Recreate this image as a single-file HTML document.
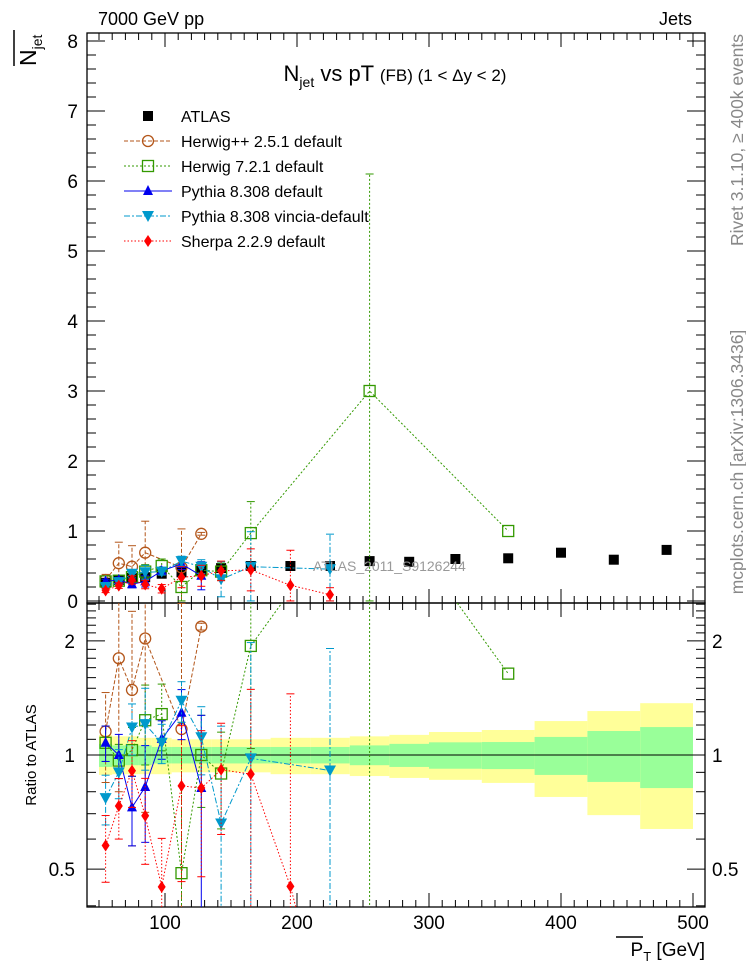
<!DOCTYPE html>
<html><head><meta charset="utf-8">
<style>
html,body{margin:0;padding:0;background:#fff;width:746px;height:972px;overflow:hidden;}
svg{display:block;font-family:"Liberation Sans",Arial,sans-serif;}
</style></head>
<body>
<svg id="c" width="746" height="972" viewBox="0 0 746 972" xmlns="http://www.w3.org/2000/svg">
<defs>
<clipPath id="clipTop"><rect x="87" y="33" width="618" height="570"/></clipPath>
<clipPath id="clipBot"><rect x="87" y="603" width="618" height="304"/></clipPath>
</defs>
<rect x="0" y="0" width="746" height="972" fill="#fff"/>
<g id="bands" clip-path="url(#clipBot)"></g>
<g id="axes"></g>
<g id="series"></g>
<text x="98" y="25" font-size="18">7000 GeV pp</text>
<text x="692" y="25" font-size="18" text-anchor="end">Jets</text>
<text x="395" y="81" font-size="22" text-anchor="middle">N<tspan font-size="14" dy="6">jet</tspan><tspan dy="-6"> vs pT </tspan><tspan font-size="17">(FB) (1 &lt; Δy &lt; 2)</tspan></text>
<g transform="translate(36,66) rotate(-90)">
<text x="0" y="0" font-size="23">N<tspan font-size="14" dy="6">jet</tspan></text>
<line x1="0" y1="-22" x2="36" y2="-22" stroke="#000" stroke-width="1.5"/>
</g>
<text transform="translate(36,755) rotate(-90)" font-size="15" text-anchor="middle">Ratio to ATLAS</text>
<text transform="translate(743,140) rotate(-90)" font-size="17.5" fill="#888" text-anchor="middle">Rivet 3.1.10, ≥ 400k events</text>
<text transform="translate(743,462) rotate(-90)" font-size="17.5" fill="#888" text-anchor="middle">mcplots.cern.ch [arXiv:1306.3436]</text>
<text x="313" y="571" font-size="14" fill="#999">ATLAS_2011_S9126244</text>
<g>
<text x="705" y="956" font-size="19" text-anchor="end">P<tspan font-size="13" dy="5">T</tspan><tspan dy="-5"> [GeV]</tspan></text>
<line x1="616" y1="937" x2="643" y2="937" stroke="#000" stroke-width="1.5"/>
</g>
<g id="legend"></g>
</svg>
<script>
// ---------- data ----------
const binCenters = [55,65,75,85,97.5,112.5,127.5,142.5,165,195,225,255,285,320,360,400,440,480];
const binEdges = [50,60,70,80,90,105,120,135,150,180,210,240,270,300,340,380,420,460,500];
const atlasValues = [0.26,0.30,0.33,0.34,0.39,0.41,0.44,0.47,0.50,0.50,0.50,0.57,0.56,0.60,0.61,0.69,0.59,0.73];
const atlasTotalUp = [1.13,1.12,1.12,1.11,1.11,1.10,1.10,1.10,1.10,1.11,1.11,1.12,1.13,1.15,1.164,1.229,1.306,1.37];
const atlasTotalDn = [0.886,0.89,0.89,0.89,0.89,0.90,0.90,0.90,0.90,0.89,0.89,0.88,0.87,0.86,0.844,0.775,0.694,0.638];
const atlasStatUp = [1.07,1.06,1.06,1.06,1.05,1.05,1.05,1.05,1.05,1.05,1.05,1.06,1.07,1.08,1.082,1.116,1.157,1.185];
const atlasStatDn = [0.93,0.94,0.94,0.94,0.95,0.95,0.95,0.95,0.95,0.95,0.95,0.94,0.93,0.92,0.918,0.886,0.849,0.818];

const herwigppX = [55,65,75,85,112.5,127.5];
const herwigppY = [0.30,0.54,0.49,0.69,0.48,0.96];
const herwigppErr = [0.08,0.30,0.30,0.45,0.55,0.02];

const herwig7X = [55,65,75,85,97.5,112.5,127.5,142.5,165,255,360];
const herwig7Y = [0.28,0.29,0.34,0.42,0.50,0.20,0.44,0.42,0.97,3.0,1.0];
const herwig7Err = [0.03,0.03,0.05,0.10,0.10,0.30,0.12,0.12,0.45,3.1,0.0];

const pythiaX = [55,65,75,85,97.5,112.5,127.5];
const pythiaY = [0.28,0.30,0.24,0.28,0.43,0.53,0.36];
const pythiaErr = [0.03,0.04,0.05,0.08,0.05,0.08,0.20];

const vinciaX = [55,65,75,85,97.5,112.5,127.5,142.5,165,225];
const vinciaY = [0.20,0.27,0.39,0.41,0.42,0.57,0.49,0.31,0.49,0.455];
const vinciaErr = [0.03,0.04,0.06,0.10,0.05,0.07,0.10,0.25,0.50,0.50];

const sherpaX = [55,65,75,85,97.5,112.5,127.5,142.5,165,195,225];
const sherpaY = [0.15,0.22,0.30,0.235,0.175,0.34,0.36,0.43,0.445,0.225,0.09];
const sherpaErr = [0.03,0.04,0.06,0.06,0.06,0.15,0.15,0.14,0.30,0.50,0.10];

const xTicks = [100,200,300,400,500];
const yTicks = [0,1,2,3,4,5,6,7,8];
const rTicks = [0.5,1,2];

// ---------- axes functions ----------
const X0=87, X1=705, TOP=33, MID=603, BOT=907;
function xs(v){return 165+(v-100)*1.32;}
function ys(v){return 601-v*70;}
function rs(r){return 755-379*Math.log10(r);}
const NS="http://www.w3.org/2000/svg";
function mk(tag,attrs,parent){const e=document.createElementNS(NS,tag);for(const k in attrs)e.setAttribute(k,attrs[k]);parent.appendChild(e);return e;}
const axes=document.getElementById('axes');
const bands=document.getElementById('bands');
const seriesG=document.getElementById('series');

for(let i=0;i<binCenters.length;i++){
  const x1=xs(binEdges[i]), x2=xs(binEdges[i+1]);
  const y=mk('rect',{x:x1,y:rs(atlasTotalUp[i]),width:x2-x1,height:rs(atlasTotalDn[i])-rs(atlasTotalUp[i]),fill:'#ffff99'},bands);
  
  
  const g=mk('rect',{x:x1,y:rs(atlasStatUp[i]),width:x2-x1,height:rs(atlasStatDn[i])-rs(atlasStatUp[i]),fill:'#99ff99'},bands);
  
  
}
const one=mk('line',{x1:X0,x2:X1,y1:rs(1),y2:rs(1),stroke:'#000','stroke-width':1},bands);



const f1=mk('rect',{x:X0,y:TOP,width:X1-X0,height:MID-TOP,fill:'none',stroke:'#000','stroke-width':1.3},axes);


const f2=mk('rect',{x:X0,y:MID,width:X1-X0,height:BOT-MID,fill:'none',stroke:'#000','stroke-width':1.3},axes);



for(let v=50;v<=500;v+=10){
  const major=v%100===0; const L=major?14:7;
  for(const yb of [MID,BOT]){mk('line',{x1:xs(v),x2:xs(v),y1:yb,y2:yb-L,stroke:'#000'},axes);}
  for(const yt of [TOP,MID]){mk('line',{x1:xs(v),x2:xs(v),y1:yt,y2:yt+L,stroke:'#000'},axes);}
}
for(const v of xTicks){
  const t=mk('text',{x:xs(v),y:929,'font-size':19,'text-anchor':'middle'},axes);t.textContent=v;
  
  
}
for(let k=0;k<=40;k++){
  const v=k*0.2; const major=k%5===0; const L=major?18:9; const y=ys(v);
  if(y<TOP)continue;
  mk('line',{x1:X0,x2:X0+L,y1:y,y2:y,stroke:'#000'},axes);
  mk('line',{x1:X1,x2:X1-L,y1:y,y2:y,stroke:'#000'},axes);
}
for(const v of yTicks){
  const t=mk('text',{x:78,y:ys(v)+7,'font-size':19,'text-anchor':'end'},axes);t.textContent=v;
  
  
}
for(let r=0.4;r<2.55;r+=0.1){
  const rr=Math.round(r*10)/10;
  const major=(rr===0.5||rr===1||rr===2); const L=major?18:9; const y=rs(rr);
  if(y<MID||y>BOT)continue;
  mk('line',{x1:X0,x2:X0+L,y1:y,y2:y,stroke:'#000'},axes);
  mk('line',{x1:X1,x2:X1-L,y1:y,y2:y,stroke:'#000'},axes);
}
for(const v of rTicks){
  const t=mk('text',{x:75,y:rs(v)+7,'font-size':19,'text-anchor':'end'},axes);t.textContent=v;
  
  
  const t2=mk('text',{x:712,y:rs(v)+7,'font-size':19},axes);t2.textContent=v;
  
  
}

function marker(type,x,y,color,g){
  let e;
  if(type==='sq') e=mk('rect',{x:x-5,y:y-5,width:10,height:10,fill:'#000'},g);
  else if(type==='osq') e=mk('rect',{x:x-5.5,y:y-5.5,width:11,height:11,fill:'none',stroke:color,'stroke-width':1.3},g);
  else if(type==='oc') e=mk('circle',{cx:x,cy:y,r:5.5,fill:'none',stroke:color,'stroke-width':1.3},g);
  else if(type==='tu') e=mk('polygon',{points:`${x},${y-6} ${x-5},${y+4} ${x+5},${y+4}`,fill:color},g);
  else if(type==='td') e=mk('polygon',{points:`${x-6},${y-5} ${x+6},${y-5} ${x},${y+6}`,fill:color},g);
  else e=mk('polygon',{points:`${x},${y-6} ${x+4},${y} ${x},${y+6} ${x-4},${y}`,fill:color},g);
  
  
}
function atlasAt(x){const i=binCenters.indexOf(x);return atlasValues[i];}
function drawSeries(name,X,Y,E,color,dash,type){
  for(const panel of ['top','bot']){
    const g=mk('g',{'clip-path':panel==='top'?'url(#clipTop)':'url(#clipBot)'},seriesG);
    
    
    const fy=(i,v)=>panel==='top'?ys(v):rs(Math.max(v/atlasAt(X[i]),0.01));
    const pts=X.map((x,i)=>xs(x)+','+fy(i,Y[i])).join(' ');
    mk('polyline',{points:pts,fill:'none',stroke:color,'stroke-width':1,'stroke-dasharray':dash},g);
    X.forEach((x,i)=>{
      if(E[i]>0){
        const lo=Math.max(Y[i]-E[i],0.001), hi=Y[i]+E[i];
        mk('line',{x1:xs(x),x2:xs(x),y1:fy(i,lo),y2:fy(i,hi),stroke:color,'stroke-width':1,'stroke-dasharray':dash},g);
        mk('line',{x1:xs(x)-4,x2:xs(x)+4,y1:fy(i,hi),y2:fy(i,hi),stroke:color},g);
        mk('line',{x1:xs(x)-4,x2:xs(x)+4,y1:fy(i,lo),y2:fy(i,lo),stroke:color},g);
      }
      marker(type,xs(x),fy(i,Y[i]),color,g);
    });
  }
}
(function(){
  const g=mk('g',{'clip-path':'url(#clipTop)'},seriesG);
  
  
  binCenters.forEach((x,i)=>marker('sq',xs(x),ys(atlasValues[i]),'#000',g));
})();
drawSeries('herwigpp',herwigppX,herwigppY,herwigppErr,'#b3561a','4,2','oc');
drawSeries('herwig7',herwig7X,herwig7Y,herwig7Err,'#339900','2,2','osq');
drawSeries('pythia',pythiaX,pythiaY,pythiaErr,'#0000ee','','tu');
drawSeries('vincia',vinciaX,vinciaY,vinciaErr,'#0099cc','6,2,2,2','td');
drawSeries('sherpa',sherpaX,sherpaY,sherpaErr,'#ff0000','1.5,2','di');

const leg=document.getElementById('legend');
const legItems=[['ATLAS','#000','','sq'],['Herwig++ 2.5.1 default','#b3561a','4,2','oc'],['Herwig 7.2.1 default','#339900','2,2','osq'],['Pythia 8.308 default','#0000ee','','tu'],['Pythia 8.308 vincia-default','#0099cc','6,2,2,2','td'],['Sherpa 2.2.9 default','#ff0000','1.5,2','di']];
legItems.forEach((it,i)=>{
  const y=116+i*25;
  const g=mk('g',{},leg);
  
  
  if(i>0) mk('line',{x1:124,x2:172,y1:y,y2:y,stroke:it[1],'stroke-dasharray':it[2]},g);
  marker(it[3],148,y,it[1],g);
  const t=mk('text',{x:181,y:y+6,'font-size':16},g);t.textContent=it[0];
});
</script>
</body></html>
